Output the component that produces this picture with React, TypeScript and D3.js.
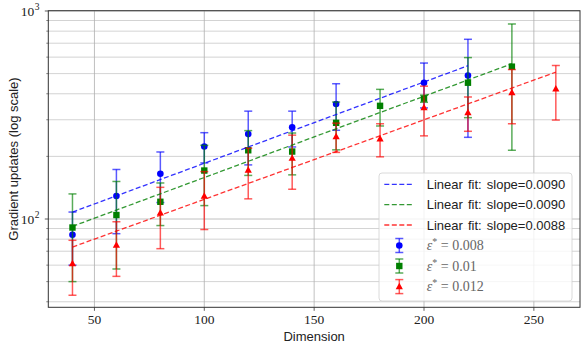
import React from "react";
import * as d3 from "d3";

const dims = [40, 60, 80, 100, 120, 140, 160, 180, 200, 220, 240, 260];
const epsLabels = ["0.008", "0.01", "0.012"];
const colors = ["#0000ff", "#008000", "#ff0000"];
const meanBlue = [84, 129, 165, 223, 256, 276, 357, null, 452, 489, null, null];
const stdBlue = [24, 44, 45, 37, 74, 54, 90, null, 110, 242, null, null];
const meanGreen = [91, 104.5, 121, 171, 214, 211, 290, 350, 379, 452, 540, null];
const stdGreen = [41, 47, 28, 55, 52, 48, 75, 70, 15, 145, 326, null];
const meanRed = [61, 75, 107, 129, 172, 196, 249, 243, 343, 325, 405, 423];
const stdRed = [18, 22, 35, 40, 47, 57, 40, 44, 92, 61, 118, 124];
const fitSlopes = [0.009, 0.009, 0.0088];
const fitIntercepts = [4.322, 4.164, 3.943];
const fitSlopeLabels = ["0.0090", "0.0090", "0.0088"];
const xTicks = [50, 100, 150, 200, 250];
const yMajor = [100, 1000];
const yMinor = [40, 50, 60, 70, 80, 90, 200, 300, 400, 500, 600, 700, 800, 900];

const means = [meanBlue, meanGreen, meanRed];
const stds = [stdBlue, stdGreen, stdRed];

const W = 586, H = 350;
const L = 48.3, R = 580, T = 10.7, B = 307.3;

const x = d3.scaleLinear().domain([29, 271]).range([L, R]);
const y = d3.scaleLog().domain([Math.pow(10, 1.5755), Math.pow(10, 3.0014)]).range([B, T]);

const serif = "'Liberation Serif', 'DejaVu Serif', serif";
const sans = "'Liberation Sans', 'DejaVu Sans', sans-serif";

function Marker({ kind, cx, cy, color }: { kind: number; cx: number; cy: number; color: string }) {
  if (kind === 0) return <circle cx={cx} cy={cy} r={3.3} fill={color} />;
  if (kind === 1) return <rect x={cx - 3.2} y={cy - 3.2} width={6.4} height={6.4} fill={color} />;
  const s = 3.8;
  return (
    <path
      d={`M${cx},${cy - s}L${cx + s * 0.95},${cy + s * 0.7}L${cx - s * 0.95},${cy + s * 0.7}Z`}
      fill={color}
    />
  );
}

export default function App() {
  const series = [0, 1, 2];

  const fitPaths = series.map((s) => {
    const valid = dims.filter((_, i) => means[s][i] != null);
    const x0 = d3.min(valid)!;
    const x1 = d3.max(valid)!;
    const pts: [number, number][] = d3.range(0, 41).map((k) => {
      const xv = x0 + ((x1 - x0) * k) / 40;
      return [x(xv), y(Math.exp(fitIntercepts[s] + fitSlopes[s] * xv))];
    });
    return d3.line()(pts) || "";
  });

  const cap = 4;
  const legX = 379, legY = 173, legW = 193, legH = 128;
  const rowY = [184.3, 204.6, 225, 245.5, 266, 286.6];

  return (
    <svg width={W} height={H} style={{ position: "absolute", left: 0, top: 0, background: "#fff" }}>
      <rect x={0} y={0} width={W} height={H} fill="#fff" />
      <g>
        {yMinor.map((v) => (
          <line key={"ym" + v} x1={L} x2={R} y1={y(v)} y2={y(v)} stroke="#c8c8c8" strokeWidth={0.8} />
        ))}
        {yMajor.map((v) => (
          <line key={"yM" + v} x1={L} x2={R} y1={y(v)} y2={y(v)} stroke="#b0b0b0" strokeWidth={0.8} />
        ))}
        {xTicks.map((v) => (
          <line key={"xg" + v} x1={x(v)} x2={x(v)} y1={T} y2={B} stroke="#b0b0b0" strokeWidth={0.8} />
        ))}
      </g>
      {series.map((s) => (
        <g key={"eb" + s}>
          {dims.map((d, i) => {
            const m = means[s][i];
            const sd = stds[s][i];
            if (m == null || sd == null) return null;
            const cx = x(d);
            const yt = y(m + sd);
            const yb = y(Math.max(m - sd, 1));
            return (
              <g key={i}>
                <g stroke={colors[s]} strokeOpacity={0.65} strokeWidth={1.5}>
                  <line x1={cx} x2={cx} y1={yt} y2={yb} />
                  <line x1={cx - cap} x2={cx + cap} y1={yt} y2={yt} />
                  <line x1={cx - cap} x2={cx + cap} y1={yb} y2={yb} />
                </g>
                <Marker kind={s} cx={cx} cy={y(m)} color={colors[s]} />
              </g>
            );
          })}
        </g>
      ))}
      {series.map((s) => (
        <path
          key={"fit" + s}
          d={fitPaths[s]}
          fill="none"
          stroke={colors[s]}
          strokeOpacity={0.8}
          strokeWidth={1.3}
          strokeDasharray="5,2.5"
        />
      ))}
      <rect x={L} y={T} width={R - L} height={B - T} fill="none" stroke="#333" strokeWidth={1} />
      {xTicks.map((v) => (
        <g key={"xt" + v}>
          <line x1={x(v)} x2={x(v)} y1={B} y2={B + 3.5} stroke="#333" strokeWidth={0.8} />
          <text x={x(v)} y={B + 17} textAnchor="middle" fontFamily={serif} fontSize={13.5} fill="#222">
            {v}
          </text>
        </g>
      ))}
      {yMinor.map((v) => (
        <line key={"ytm" + v} x1={L - 2} x2={L} y1={y(v)} y2={y(v)} stroke="#333" strokeWidth={0.6} />
      ))}
      {yMajor.map((v) => (
        <g key={"ytM" + v}>
          <line x1={L - 3.5} x2={L} y1={y(v)} y2={y(v)} stroke="#333" strokeWidth={0.8} />
          <text x={L - 14} y={y(v) + 5} textAnchor="end" fontFamily={serif} fontSize={13.5} fill="#222">
            10
          </text>
          <text x={L - 13.5} y={y(v) - 1} textAnchor="start" fontFamily={serif} fontSize={9.5} fill="#222">
            {Math.round(Math.log10(v))}
          </text>
        </g>
      ))}
      <text x={(L + R) / 2} y={341} textAnchor="middle" fontFamily={sans} fontSize={13} fill="#222">
        Dimension
      </text>
      <text
        transform={`translate(18,${(T + B) / 2}) rotate(-90)`}
        textAnchor="middle"
        fontFamily={sans}
        fontSize={13}
        fill="#222"
      >
        Gradient updates (log scale)
      </text>
      <rect x={legX} y={legY} width={legW} height={legH} rx={3} fill="#fff" fillOpacity={0.8} stroke="#d0d0d0" strokeWidth={0.8} />
      {series.map((s) => (
        <g key={"lf" + s}>
          <line
            x1={384.3}
            x2={414.3}
            y1={rowY[s]}
            y2={rowY[s]}
            stroke={colors[s]}
            strokeOpacity={0.8}
            strokeWidth={1.3}
            strokeDasharray="5,2.5"
          />
          <text x={426.7} y={rowY[s] + 4.7} fontFamily={sans} fontSize={13} fill="#222" wordSpacing={1.5}>
            Linear fit: slope={fitSlopeLabels[s]}
          </text>
        </g>
      ))}
      {series.map((s) => {
        const cy = rowY[3 + s];
        const cx = 399.3;
        return (
          <g key={"le" + s}>
            <g stroke={colors[s]} strokeOpacity={0.65} strokeWidth={1.5}>
              <line x1={cx} x2={cx} y1={cy - 7} y2={cy + 7} />
              <line x1={cx - cap} x2={cx + cap} y1={cy - 7} y2={cy - 7} />
              <line x1={cx - cap} x2={cx + cap} y1={cy + 7} y2={cy + 7} />
            </g>
            <Marker kind={s} cx={cx} cy={cy} color={colors[s]} />
            <text x={426.7} y={cy + 4.7} fontFamily={serif} fontSize={14} fill="#666">
              <tspan fontStyle="italic">ε</tspan>
              <tspan fontSize={10} dy={-5}>*</tspan>
              <tspan dy={5}> = {epsLabels[s]}</tspan>
            </text>
          </g>
        );
      })}
    </svg>
  );
}
